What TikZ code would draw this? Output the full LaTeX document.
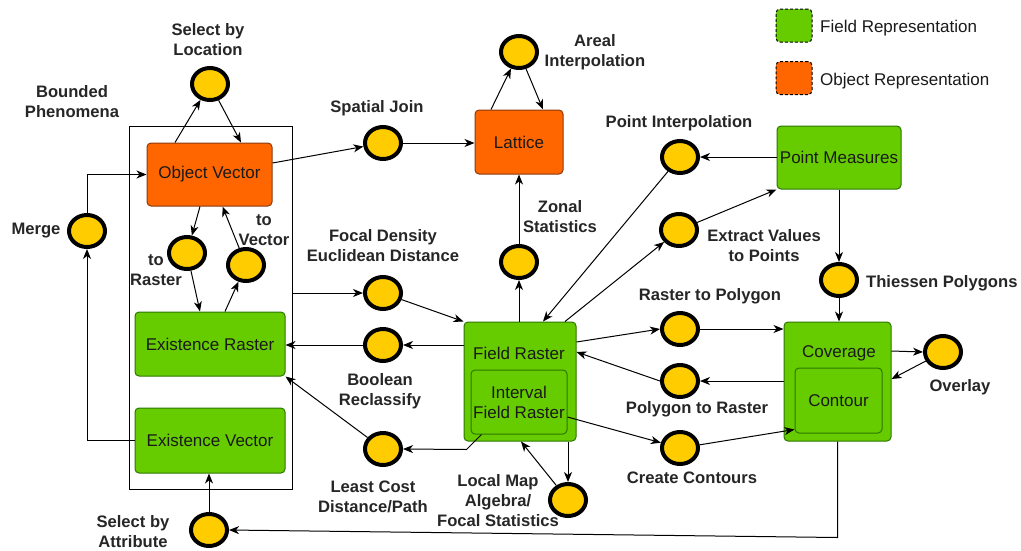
\documentclass[tikz,border=0pt]{standalone}
\usepackage{fontspec}
\setmainfont{Liberation Sans}
\usetikzlibrary{shapes.geometric,arrows.meta}

\definecolor{fieldgreen}{HTML}{66CC00}
\definecolor{fieldline}{HTML}{2D7600}
\definecolor{objorange}{HTML}{FF6600}
\definecolor{objline}{HTML}{8A3A10}
\definecolor{opyellow}{HTML}{FFCC00}
\definecolor{labelgray}{HTML}{262626}
\definecolor{boxtext}{HTML}{1A1A1A}

\tikzset{
  opnode/.style={ellipse, draw=black, line width=4pt, fill=opyellow,
    minimum width=36pt, minimum height=32pt, inner sep=0pt},
  lbl/.style={font=\fontsize{16.6}{20}\selectfont\bfseries, text=labelgray,
    align=center, inner sep=0pt},
  boxbase/.style={rounded corners=4pt, line width=1pt, inner sep=0pt,
    font=\fontsize{17}{20}\selectfont, text=boxtext, align=center},
  fieldbox/.style={boxbase, fill=fieldgreen, draw=fieldline},
  objbox/.style={boxbase, fill=objorange, draw=objline},
  boxtxt/.style={font=\fontsize{17}{20}\selectfont, text=boxtext, align=center, inner sep=0pt},
  legendbox/.style={rounded corners=4pt, line width=1pt, draw=black,
    dash pattern=on 3pt off 2pt, minimum width=36pt, minimum height=33pt, inner sep=0pt},
  arr/.style={draw=black, line width=1pt, -{Stealth[length=10pt,width=8pt,inset=3pt]}},
}

\begin{document}
\begin{tikzpicture}[x=1pt,y=-1pt]
\useasboundingbox (0,0) rectangle (1021,550);
\fill[white] (0,0) rectangle (1021,550);

% legend
\node[legendbox, fill=fieldgreen] (lgf) at (794,25.5) {};
\node[legendbox, fill=objorange] (lgo) at (794,78) {};
\node[boxtxt, anchor=west] (lgft) at (820,28) {Field Representation};
\node[boxtxt, anchor=west] (lgot) at (820,81) {Object Representation};

% bounded phenomena group
\node[draw=black, line width=1pt, minimum width=163pt, minimum height=363pt, inner sep=0pt] (bp) at (210.5,307.5) {};
\node[lbl] (bpt) at (72,102) {Bounded\\Phenomena};

% representations
\node[objbox, minimum width=125pt, minimum height=63pt] (ov) at (209.5,174.5) {Object Vector};
\node[fieldbox, minimum width=150pt, minimum height=64pt] (er) at (210,344) {Existence Raster};
\node[fieldbox, minimum width=150pt, minimum height=65pt] (ev) at (210,440.5) {Existence Vector};
\node[objbox, minimum width=88pt, minimum height=64pt] (lat) at (519,142) {Lattice};
\node[fieldbox, minimum width=124pt, minimum height=63pt] (pm) at (839,157.5) {Point Measures};

\node[fieldbox, minimum width=112pt, minimum height=119pt] (fr) at (520,381.5) {};
\node[boxtxt] (frt) at (519,353) {Field Raster};
\node[fieldbox, minimum width=96pt, minimum height=64pt] (ifr) at (519,402) {Interval\\Field Raster};

\node[fieldbox, minimum width=107pt, minimum height=119pt] (cov) at (837.5,381.5) {};
\node[boxtxt] (covt) at (839,353) {Coverage};
\node[fieldbox, minimum width=87pt, minimum height=65pt] (con) at (838.5,400.5) {Contour};

% operations
\node[opnode] (sbl) at (210,84) {};
\node[opnode] (mrg) at (87,231) {};
\node[opnode] (tor) at (187,253) {};
\node[opnode] (tov) at (246,265) {};
\node[opnode] (sj) at (383,143) {};
\node[opnode] (ai) at (519,52) {};
\node[opnode] (zs) at (519,262) {};
\node[opnode] (fd) at (383,293) {};
\node[opnode] (br) at (383,345) {};
\node[opnode] (lc) at (383,449) {};
\node[opnode] (lm) at (568,500) {};
\node[opnode] (pi) at (680,157) {};
\node[opnode] (evp) at (679,230) {};
\node[opnode] (rtp) at (680,329) {};
\node[opnode] (ptr) at (680,381) {};
\node[opnode] (cc) at (680,448) {};
\node[opnode] (tp) at (839,280) {};
\node[opnode] (ovl) at (943,352) {};
\node[opnode] (sba) at (209,530) {};

% operation labels
\node[lbl] at (208,40) {Select by\\Location};
\node[lbl] at (36,231) {Merge};
\node[lbl] at (156,270) {to\\Raster};
\node[lbl] at (264,230) {to\\Vector};
\node[lbl] at (377,108) {Spatial Join};
\node[lbl] at (595,52) {Areal\\Interpolation};
\node[lbl] at (560,217) {Zonal\\Statistics};
\node[lbl] at (383,246) {Focal Density\\Euclidean Distance};
\node[lbl] at (380,391) {Boolean\\Reclassify};
\node[lbl] at (373,497) {Least Cost\\Distance/Path};
\node[lbl] at (498,501) {Local Map\\Algebra/\\Focal Statistics};
\node[lbl] at (679,123) {Point Interpolation};
\node[lbl] at (764,246) {Extract Values\\to Points};
\node[lbl] at (710,296) {Raster to Polygon};
\node[lbl] at (697,409) {Polygon to Raster};
\node[lbl] at (692,478) {Create Contours};
\node[lbl, anchor=west] at (866,283) {Thiessen Polygons};
\node[lbl] at (960,387) {Overlay};
\node[lbl] at (133,532) {Select by\\Attribute};

% connectors: object vector group
\draw[arr] ([xshift=-34.5pt]ov.north) -- (sbl);
\draw[arr] (sbl) -- ([xshift=31.5pt]ov.north);
\draw[arr] ([xshift=-9.5pt]ov.south) -- (tor);
\draw[arr] (tor) -- ([xshift=-10pt]er.north);
\draw[arr] ([xshift=15pt]er.north) -- (tov);
\draw[arr] (tov) -- ([xshift=13pt]ov.south);
\draw[arr] (mrg.north) |- (ov.west);
\draw[arr] (ev.west) -| (mrg.south);
\draw[arr] (sba.north) -- (sba.north |- ev.south);

% connectors: lattice
\draw[arr] ([yshift=11.5pt]ov.east) -- (sj);
\draw[arr] (sj.east) -- (sj.east -| lat.west);
\draw[arr] ([xshift=-28pt]lat.north) -- (ai);
\draw[arr] (ai) -- ([xshift=24pt]lat.north);
\draw[arr] (zs.north) -- (zs.north |- lat.south);
\draw[arr] (zs.south |- fr.north) -- (zs.south);

% connectors: field raster
\draw[arr] (bp.east |- fd.west) -- (fd.west);
\draw[arr] (fd) -- (fr.north west);
\draw[arr] (fr.west |- br.east) -- (br.east);
\draw[arr] (br.west) -- (br.west -| er.east);
\draw[arr] ([xshift=11pt]ifr.south west) -- ++(-15,15) -- (lc.east);
\draw[arr] (lc) -- (er.south east);
\draw[arr] ([xshift=48pt]fr.south) -- (lm.north);
\draw[arr] (lm) -- ([xshift=1pt]fr.south);

% connectors: point measures
\draw[arr] (pm.west |- pi.east) -- (pi.east);
\draw[arr] (pi) -- ([xshift=23pt]fr.north);
\draw[arr] ([xshift=45pt]fr.north) -- (evp);
\draw[arr] (evp) -- (pm.south west);
\draw[arr] (pm.south -| tp.north) -- (tp.north);

% connectors: coverage
\draw[arr] (tp.south) -- (tp.south |- cov.north);
\draw[arr] ([yshift=39.5pt]fr.east) -- (rtp.west);
\draw[arr] (rtp.east) -- (rtp.east -| cov.west);
\draw[arr] (cov.west |- ptr.east) -- (ptr.east);
\draw[arr] (ptr.west) -- ([yshift=29.5pt]fr.east);
\draw[arr] ([yshift=-15pt]ifr.east) -- (cc);
\draw[arr] (cc) -- ([yshift=4pt]con.south west);
\draw[arr] ([yshift=30.5pt]cov.east) -- (ovl.west);
\draw[arr] (ovl) -- ([yshift=2.5pt]cov.east);
\draw[arr] (cov.south) -- ++(0,96) -- (sba.east);
\end{tikzpicture}
\end{document}
